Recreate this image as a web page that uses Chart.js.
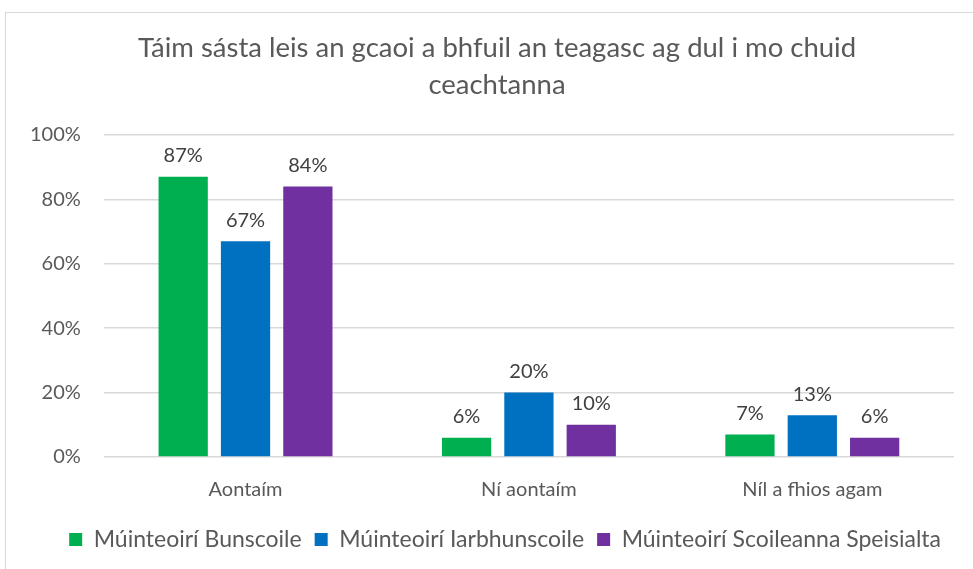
<html lang="ga">
  <head>
    <meta charset="UTF-8" />
    <script src="https://cdn.jsdelivr.net/npm/chart.js"></script>
    <title>Táim sásta</title>
    <style>
      body { margin: 0; background: #fff; }
      #wrap { position: relative; width: 973px; height: 569px; }
      #frame { position: absolute; left: 5px; top: 12px; width: 980px; height: 580px; border: 1px solid #d9d9d9; }
      canvas { position: absolute; left: 0; top: 0; }
    </style>
  </head>
  <body>
    <div id="wrap">
      <div id="frame"></div>
      <canvas id="chart" width="973" height="569"></canvas>
    </div>
    <script>
      const categories = ["Aontaím", "Ní aontaím", "Níl a fhios agam"];
      const seriesNames = ["Múinteoirí Bunscoile", "Múinteoirí Iarbhunscoile", "Múinteoirí Scoileanna Speisialta"];
      const bunscoile = [87, 6, 7];
      const iarbhunscoile = [67, 20, 13];
      const speisialta = [84, 10, 6];
      const colours = ["#00B050", "#0070C0", "#7030A0"];
      const yTicks = [0, 20, 40, 60, 80, 100];
      const titleLines = ["Táim sásta leis an gcaoi a bhfuil an teagasc ag dul i mo chuid", "ceachtanna"];

      const FONT = "Lato, 'Open Sans', sans-serif";
      const TITLE_SIZE = 27.5;
      const TITLE_LH = 37;

      // draw the value above each bar
      const barLabels = {
        id: "barLabels",
        afterDatasetsDraw(chart) {
          const ctx = chart.ctx;
          ctx.save();
          ctx.font = "20px " + FONT;
          ctx.fillStyle = "#404040";
          ctx.textAlign = "center";
          ctx.textBaseline = "bottom";
          chart.data.datasets.forEach((ds, i) => {
            chart.getDatasetMeta(i).data.forEach((bar, j) => {
              ctx.fillText(ds.data[j] + "%", bar.x, bar.y - 11);
            });
          });
          ctx.restore();
        },
      };

      // title is drawn a little right of centre, as in the original
      const offsetTitle = {
        id: "offsetTitle",
        afterDraw(chart) {
          const ctx = chart.ctx;
          const tb = chart.titleBlock;
          ctx.save();
          ctx.font = TITLE_SIZE + "px " + FONT;
          ctx.fillStyle = "#595959";
          ctx.textAlign = "center";
          ctx.textBaseline = "middle";
          titleLines.forEach((line, i) => {
            ctx.fillText(line, 497, tb.top + 30 + TITLE_LH * (i + 0.5));
          });
          ctx.restore();
        },
      };

      new Chart(document.getElementById("chart"), {
        type: "bar",
        data: {
          labels: categories,
          datasets: [bunscoile, iarbhunscoile, speisialta].map((d, i) => ({
            label: seriesNames[i],
            data: d,
            backgroundColor: colours[i],
            categoryPercentage: 0.66,
            barPercentage: 0.79,
          })),
        },
        options: {
          responsive: false,
          animation: false,
          layout: { padding: { left: 7, right: 19, top: 0, bottom: 8 } },
          plugins: {
            title: {
              display: true,
              text: titleLines,
              color: "rgba(0,0,0,0)",
              font: { family: FONT, size: TITLE_SIZE, weight: "normal", lineHeight: TITLE_LH / TITLE_SIZE },
              padding: { top: 30, bottom: 31 },
            },
            legend: {
              position: "bottom",
              align: "end",
              labels: {
                color: "#595959",
                font: { family: FONT, size: 23 },
                boxWidth: 13,
                boxHeight: 13,
                padding: 13,
              },
            },
            tooltip: { enabled: false },
          },
          scales: {
            x: {
              grid: { display: false },
              border: { display: false },
              ticks: { color: "#595959", font: { family: FONT, size: 20 }, padding: 13 },
            },
            y: {
              min: 0,
              max: 100,
              afterBuildTicks: (axis) => { axis.ticks = yTicks.map((v) => ({ value: v })); },
              grid: { color: "#d9d9d9", lineWidth: 1.5, drawTicks: false },
              border: { display: false },
              ticks: {
                color: "#595959",
                font: { family: FONT, size: 20 },
                padding: 23,
                callback: (v) => v + "%",
              },
            },
          },
        },
        plugins: [barLabels, offsetTitle],
      });
    </script>
  </body>
</html>
